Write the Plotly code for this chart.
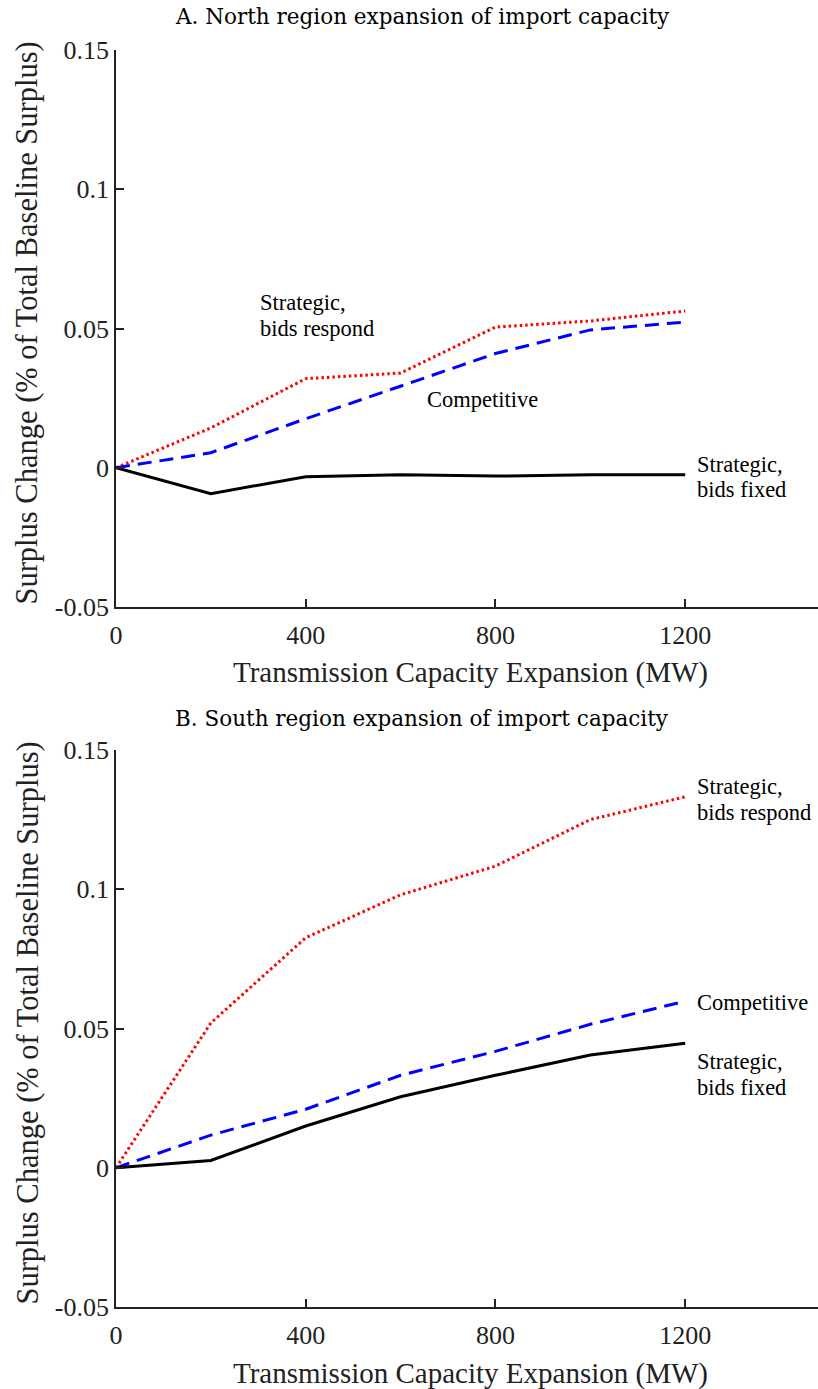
import plotly.graph_objects as go

# Transmission capacity expansion steps (MW)
capacity = [0, 200, 400, 600, 800, 1000, 1200]

# Panel A: North region expansion of import capacity
north_bids_respond = [0, 0.0143, 0.0320, 0.0340, 0.0505, 0.0527, 0.0563]
north_competitive = [0, 0.0054, 0.0176, 0.0294, 0.0410, 0.0495, 0.0523]
north_bids_fixed = [0, -0.0093, -0.0032, -0.0025, -0.0030, -0.0025, -0.0025]

# Panel B: South region expansion of import capacity
south_bids_respond = [0, 0.0520, 0.0826, 0.0980, 0.1083, 0.1250, 0.1332]
south_competitive = [0, 0.0117, 0.0210, 0.0332, 0.0418, 0.0515, 0.0598]
south_bids_fixed = [0, 0.0026, 0.0150, 0.0255, 0.0332, 0.0405, 0.0447]

x_ticks = [0, 400, 800, 1200]
y_ticks = [-0.05, 0, 0.05, 0.1, 0.15]
y_tick_text = ["-0.05", "0", "0.05", "0.1", "0.15"]

W, H = 818, 1389
SERIF = "Liberation Serif, Times New Roman, serif"
INK = "#222"

fig = go.Figure()

styles = [
    ("red", "2.5px,3px"),
    ("blue", "14px,8px"),
    ("black", "solid"),
]

panels = [
    ("x", "y", [north_bids_respond, north_competitive, north_bids_fixed]),
    ("x2", "y2", [south_bids_respond, south_competitive, south_bids_fixed]),
]
for xa, ya, series in panels:
    for vals, (col, dash) in zip(series, styles):
        fig.add_trace(go.Scatter(
            x=capacity, y=vals, mode="lines", xaxis=xa, yaxis=ya,
            line=dict(color=col, width=3, dash=dash), showlegend=False,
        ))

x_dom = [116 / W, 1.0]
dom_a = [1 - 607 / H, 1 - 50 / H]
dom_b = [1 - 1307 / H, 1 - 750 / H]

common_x = dict(
    range=[0, 1480], tickvals=x_ticks, ticks="inside", ticklen=8, tickwidth=1.5,
    tickcolor=INK, showline=True, linecolor=INK, linewidth=1.8,
    showgrid=False, zeroline=False, automargin=False,
    tickfont=dict(family=SERIF, size=26, color=INK),
    ticklabelstandoff=4,
)
common_y = dict(
    range=[-0.05, 0.15], tickvals=y_ticks, ticktext=y_tick_text, ticks="inside",
    ticklen=8, tickwidth=1.5, tickcolor=INK, showline=True, linecolor=INK,
    linewidth=1.8, showgrid=False, zeroline=False, automargin=False,
    tickfont=dict(family=SERIF, size=26, color=INK),
    ticklabelstandoff=0,
)

fig.update_layout(
    width=W, height=H, margin=dict(l=0, r=0, t=0, b=0, autoexpand=False),
    paper_bgcolor="white", plot_bgcolor="white",
    xaxis=dict(domain=x_dom, anchor="y", **common_x),
    yaxis=dict(domain=dom_a, anchor="x", **common_y),
    xaxis2=dict(domain=x_dom, anchor="y2", **common_x),
    yaxis2=dict(domain=dom_b, anchor="x2", **common_y),
)


def px_x(p):
    return p / W


def px_y(p):
    return 1 - p / H


def label(text, x, y, size, anchor="left", family=SERIF, angle=0, color="black"):
    fig.add_annotation(
        text=text, x=px_x(x), y=px_y(y), xref="paper", yref="paper",
        xanchor=anchor, yanchor="middle", align=anchor, showarrow=False,
        textangle=angle, font=dict(family=family, size=size, color=color),
    )


# panel headings
label("A. North region expansion of import capacity", 422, 17, 21.5,
      anchor="center", family="DejaVu Serif")
label("B. South region expansion of import capacity", 422, 718, 21.5,
      anchor="center", family="DejaVu Serif")

# axis titles
for top, bottom in [(50, 607), (750, 1307)]:
    label("Surplus Change (% of Total Baseline Surplus)", 27, (top + bottom) / 2 - 5,
          30.5, anchor="center", angle=-90, color=INK)
    label("Transmission Capacity Expansion (MW)", 471, bottom + 66, 29,
          anchor="center", color=INK)

# series labels
series_labels = [
    (["Strategic,", "bids respond"], 258, 302),
    (["Competitive"], 425, 399),
    (["Strategic,", "bids fixed"], 695, 464),
    (["Strategic,", "bids respond"], 695, 786),
    (["Competitive"], 695, 1002),
    (["Strategic,", "bids fixed"], 695, 1061),
]
for lines, x, y in series_labels:
    for i, line in enumerate(lines):
        label(line, x, y + 26 * i, 22.5)

fig.write_html("out.html")
